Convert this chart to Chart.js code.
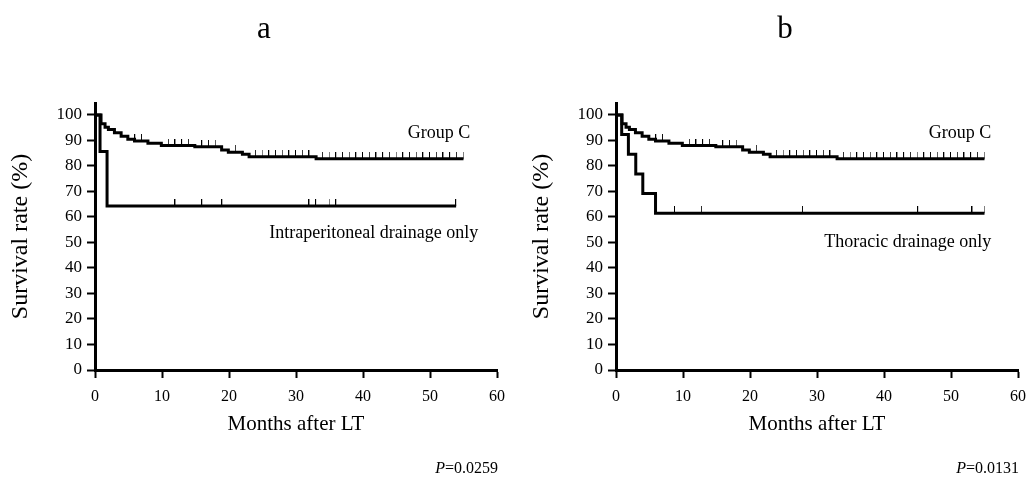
<!DOCTYPE html>
<html>
<head>
<meta charset="utf-8">
<script src="https://cdn.jsdelivr.net/npm/chart.js@4"></script>
<style>
  html, body { margin: 0; padding: 0; background: #fff; }
  .panel { position: absolute; top: 0; width: 515px; height: 481px; }
  #panelA { left: 0; }
  #panelB { left: 521px; }
</style>
</head>
<body>
<div class="panel" id="panelA"><canvas id="chartA"></canvas></div>
<div class="panel" id="panelB"><canvas id="chartB"></canvas></div>
<script>
const xTicks = [0, 10, 20, 30, 40, 50, 60]
const yTicks = [0, 10, 20, 30, 40, 50, 60, 70, 80, 90, 100]

// Group C (same curve in both panels)
const groupCTimes = [0, 0.9, 1.5, 2.0, 2.9, 3.9, 4.9, 5.9, 7.9, 9.9, 14.9, 18.9, 19.9, 22.0, 23.0, 33.0, 55.0]
const groupCSurv  = [100, 96.6, 95.2, 94.3, 93.0, 91.7, 90.5, 89.8, 88.9, 88.0, 87.5, 86.3, 85.4, 84.6, 83.6, 82.8, 82.8]
const groupCCensor = [6, 7, 11, 12, 13, 14, 16, 17, 18, 21,
  24, 25, 26, 27, 28, 29, 30, 31, 32,
  34, 35, 36, 37, 38, 39, 40, 41, 42, 43, 44, 45, 46, 47, 48, 49, 50, 51, 52, 53, 54, 55]

// a: intraperitoneal drainage only
const ipTimes = [0, 0.75, 1.8, 53.9]
const ipSurv  = [100, 85.7, 64.3, 64.3]
const ipCensor = [12, 16, 19, 32, 33, 35, 36, 53.9]

// b: thoracic drainage only
const thTimes = [0, 0.85, 1.85, 2.95, 4.0, 5.9, 55.0]
const thSurv  = [100, 92.3, 84.6, 76.9, 69.2, 61.5, 61.5]
const thCensor = [8.8, 12.8, 27.9, 45.1, 53.2, 55.0]

const FONT = "'Liberation Serif', 'DejaVu Serif', serif"

function survAt(times, surv, t) {
  let v = surv[0]
  for (let i = 0; i < times.length; i++) if (times[i] <= t) v = surv[i]
  return v
}

// small upward tick used as the censoring mark
function censorMark() {
  const c = document.createElement('canvas')
  c.width = 2
  c.height = 14
  const g = c.getContext('2d')
  g.fillStyle = '#000'
  g.fillRect(0, 0, 1, 7)
  return c
}
const mark = censorMark()

function curve(times, surv) {
  return {
    data: times.map((t, i) => ({ x: t, y: surv[i] })),
    borderColor: '#000',
    borderWidth: 3,
    pointRadius: 0,
    stepped: true,
    fill: false
  }
}

function censors(times, surv, cens) {
  return {
    data: cens.map(t => ({ x: t, y: survAt(times, surv, t) })),
    showLine: false,
    pointStyle: mark,
    pointRadius: 3,
    borderColor: '#000',
    backgroundColor: '#000'
  }
}

const textPlugin = {
  id: 'panelText',
  afterDraw(chart, args, opts) {
    const { ctx, chartArea, scales } = chart
    ctx.save()
    ctx.fillStyle = '#000'
    ctx.textBaseline = 'middle'
    // panel letter
    ctx.font = '31px ' + FONT
    ctx.textAlign = 'center'
    ctx.fillText(opts.letter, 264, 30)
    // curve labels
    ctx.font = '18px ' + FONT
    ctx.textAlign = 'right'
    opts.labels.forEach(l => {
      ctx.fillText(l.text, scales.x.getPixelForValue(l.x), scales.y.getPixelForValue(l.y))
    })
    // P value
    ctx.font = '16px ' + FONT
    const y = chart.height - 12
    const num = '=' + opts.p
    const numW = ctx.measureText(num).width
    ctx.fillText(num, chartArea.right + 1, y)
    ctx.font = 'italic 16px ' + FONT
    ctx.fillText('P', chartArea.right + 1 - numW, y)
    ctx.restore()
  }
}

function makeChart(id, datasets, letter, labels, p) {
  return new Chart(document.getElementById(id), {
    type: 'line',
    data: { datasets },
    plugins: [textPlugin],
    options: {
      responsive: true,
      maintainAspectRatio: false,
      animation: false,
      layout: { padding: { left: 0, right: 18, top: 103, bottom: 40 } },
      plugins: {
        legend: { display: false },
        tooltip: { enabled: false },
        panelText: { letter, labels, p }
      },
      scales: {
        x: {
          type: 'linear',
          min: xTicks[0],
          max: xTicks[xTicks.length - 1],
          afterBuildTicks: (s) => { s.ticks = xTicks.map(v => ({ value: v })) },
          afterFit: (s) => { s.height = 71 },
          border: { display: true, color: '#000', width: 3 },
          grid: { drawOnChartArea: false, drawTicks: true, tickLength: 8, tickWidth: 2, tickColor: '#000' },
          ticks: { color: '#000', padding: 9, maxRotation: 0, font: { family: FONT, size: 16 } },
          title: { display: true, text: 'Months after LT', color: '#000', padding: { top: 4, bottom: 4 }, font: { family: FONT, size: 21 } }
        },
        y: {
          type: 'linear',
          min: 0,
          max: 104.7,
          afterBuildTicks: (s) => { s.ticks = yTicks.map(v => ({ value: v })) },
          afterFit: (s) => { s.width = 95 },
          border: { display: true, color: '#000', width: 3 },
          grid: { drawOnChartArea: false, drawTicks: true, tickLength: 8, tickWidth: 2, tickColor: '#000' },
          ticks: { color: '#000', padding: 5, font: { family: FONT, size: 17 } },
          title: { display: true, text: 'Survival rate (%)', color: '#000', padding: { top: 6, bottom: 4 }, font: { family: FONT, size: 24 } }
        }
      }
    }
  })
}

makeChart('chartA', [
  curve(groupCTimes, groupCSurv),
  censors(groupCTimes, groupCSurv, groupCCensor),
  curve(ipTimes, ipSurv),
  censors(ipTimes, ipSurv, ipCensor)
], 'a', [
  { text: 'Group C', x: 56, y: 92.9 },
  { text: 'Intraperitoneal drainage only', x: 57.2, y: 53.7 }
], '0.0259')

makeChart('chartB', [
  curve(groupCTimes, groupCSurv),
  censors(groupCTimes, groupCSurv, groupCCensor),
  curve(thTimes, thSurv),
  censors(thTimes, thSurv, thCensor)
], 'b', [
  { text: 'Group C', x: 56, y: 92.9 },
  { text: 'Thoracic drainage only', x: 56, y: 50.2 }
], '0.0131')
</script>
</body>
</html>
